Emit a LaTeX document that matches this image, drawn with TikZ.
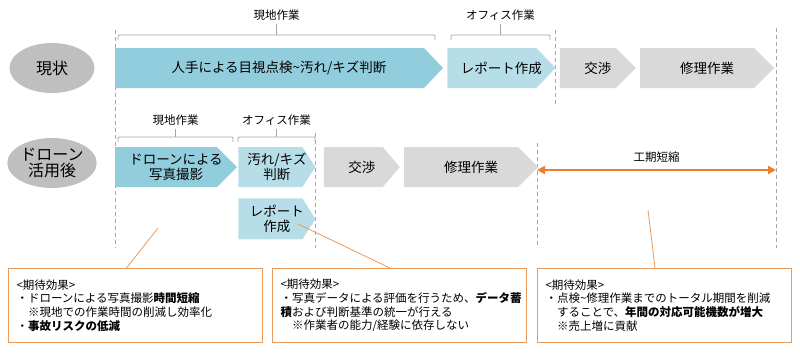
\documentclass[tikz,border=0pt]{standalone}
\usepackage{fontspec}
\setmainfont{Noto Sans CJK JP}
\usetikzlibrary{arrows.meta,positioning,shapes.geometric}
\definecolor{chevblue}{RGB}{146,205,221}
\definecolor{chevlight}{RGB}{183,222,232}
\definecolor{chevgray}{RGB}{217,217,217}
\definecolor{ovalgray}{RGB}{191,191,191}
\definecolor{guidegray}{RGB}{166,166,166}
\definecolor{effectorange}{RGB}{237,125,49}
\definecolor{calloutorange}{RGB}{232,155,90}
\newcommand{\fsz}[2]{\fontsize{#1}{#2}\selectfont}

\begin{document}
\begin{tikzpicture}[x=1pt,y=-1pt,
    node distance=4pt,
    stage/.style={ellipse,fill=ovalgray,minimum width=85pt,minimum height=50pt,inner sep=0pt,
                  align=center,font=\fsz{16}{15.5}},
    chev/.style 2 args={rectangle,inner sep=0pt,minimum height=40pt,align=center,font=\fsz{13.5}{15},
        path picture={\fill[#1] (path picture bounding box.north west)
            -- ([xshift=-#2pt]path picture bounding box.north east)
            -- (path picture bounding box.east)
            -- ([xshift=-#2pt]path picture bounding box.south east)
            -- (path picture bounding box.south west) -- cycle;}},
    span/.style={font=\fsz{11.5}{13}},
    bracket/.style={draw=guidegray,line width=0.8pt,rounded corners=1pt},
    guide/.style={draw=guidegray,line width=0.9pt,dash pattern=on 4pt off 3pt},
    effect/.style={draw=calloutorange,line width=1pt,text width=238pt,minimum height=74pt,
                   inner xsep=8pt,align=left,font=\fsz{11.5}{13.8},anchor=north west},
    callout/.style={draw=calloutorange,line width=0.8pt},
    gain/.style={{Triangle[length=8pt,width=8pt]}-{Triangle[length=8pt,width=8pt]},
                 draw=effectorange,line width=2.5pt}
]
    \useasboundingbox (0,0) rectangle (800,360);

    % dashed guides
    \draw[guide] (115,30) -- (115,248);
    \draw[guide] (555,30) -- (555,107);
    \draw[guide] (776,28) -- (776,248);
    \draw[guide] (315,133) -- (315,248);
    \draw[guide] (537,143) -- (537,248);

    % current flow
    \node[stage] (now) at (52,68) {現状};
    \node[chev={chevblue}{19},minimum width=328pt] (cur1) at (279,68) {人手による目視点検\textasciitilde 汚れ/キズ判断};
    \node[chev={chevlight}{19},minimum width=108pt,right=of cur1] (cur2) {レポート作成};
    \node[chev={chevgray}{20},minimum width=76pt,right=of cur2] (cur3) {交渉};
    \node[chev={chevgray}{20},minimum width=134pt,right=of cur3] (cur4) {修理作業};

    \node[span] (siteA) at (276.5,15) {現地作業};
    \draw[bracket] (118,40) -- (118,35) -- (435,35) -- (435,40);
    \draw[guidegray,line width=0.8pt] (siteA.south) -- (siteA.south |- 0,35);
    \node[span] (officeA) at (500.5,15) {オフィス作業};
    \draw[bracket] (451,40) -- (451,35) -- (550,35) -- (550,40);
    \draw[guidegray,line width=0.8pt] (officeA.south) -- (officeA.south |- 0,35);

    % drone flow
    \node[stage] (drone) at (52,163) {ドローン\\活用後};
    \node[chev={chevblue}{20},minimum width=122pt] (new1) at (176,167) {ドローンによる\\写真撮影};
    \node[chev={chevlight}{13},minimum width=77pt,right=1pt of new1] (new2) {汚れ/キズ\\判断};
    \node[chev={chevlight}{13},minimum width=77pt,minimum height=41pt,below=11pt of new2] (new3) {レポート\\作成};
    \node[chev={chevgray}{17},minimum width=76pt,right=8pt of new2] (new4) {交渉};
    \node[chev={chevgray}{20},minimum width=134pt,right=of new4] (new5) {修理作業};

    \node[span] (siteB) at (175.5,120) {現地作業};
    \draw[bracket] (118,142) -- (118,137) -- (233,137) -- (233,142);
    \draw[guidegray,line width=0.8pt] (siteB.south) -- (siteB.south |- 0,137);
    \node[span] (officeB) at (276.5,120) {オフィス作業};
    \draw[bracket] (238,142) -- (238,137) -- (315,137) -- (315,142);
    \draw[guidegray,line width=0.8pt] (officeB.south) -- (officeB.south |- 0,137);

    % shortened term
    \coordinate (termL) at (537,170);
    \coordinate (termR) at (776,170);
    \draw[gain] (termL) -- (termR);
    \node[span] (term) at (656.5,157) {工期短縮};

    % expected effects
    \node[effect] (eff1) at (8,268) {<期待効果>\\
        ・ドローンによる写真撮影\textbf{時間短縮}\\
        \hspace*{1em}※現地での作業時間の削減し効率化\\
        ・\textbf{事故リスクの低減}};
    \node[effect] (eff2) at (272,268) {<期待効果>\\
        ・写真データによる評価を行うため、\textbf{データ蓄}\\
        \textbf{積}および判断基準の統一が行える\\
        \hspace*{1em}※作業者の能力/経験に依存しない};
    \node[effect] (eff3) at (537,268) {<期待効果>\\
        ・点検\textasciitilde 修理作業までのトータル期間を削減\\
        \hspace*{1em}することで、\textbf{年間の対応可能機数が増大}\\
        \hspace*{1em}※売上増に貢献};

    \coordinate (pin1) at (158,228);
    \coordinate (pin2) at (298,224);
    \coordinate (pin3) at (648,210);
    \draw[callout] (pin1) -- ([xshift=-9pt]eff1.north);
    \draw[callout] (pin2) -- ([xshift=-9.5pt]eff2.north);
    \draw[callout] (pin3) -- ([xshift=-9.5pt]eff3.north);
\end{tikzpicture}
\end{document}
